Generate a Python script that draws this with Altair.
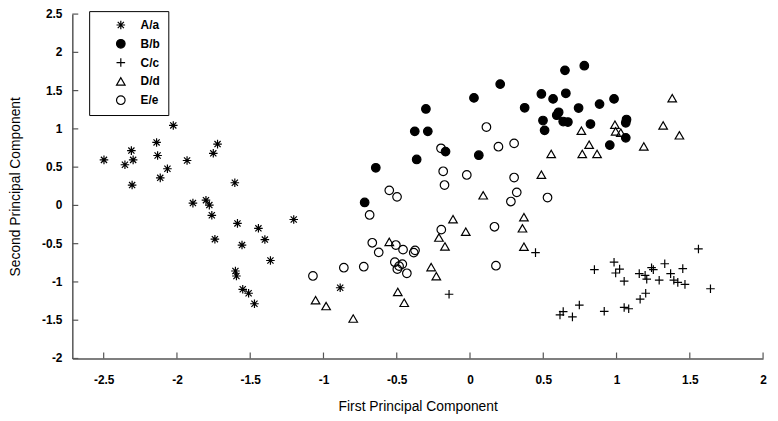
import altair as alt
import pandas as pd

groups = ["A/a", "B/b", "C/c", "D/d", "E/e"]

a_x = [-2.025, -2.139, -2.311, -1.723, -1.752, -2.132, -2.498, -2.299, -2.355, -1.931,
       -2.065, -2.114, -2.306, -1.605, -1.891, -1.802, -1.779, -1.762, -1.203, -1.587,
       -1.444, -1.741, -1.400, -1.556, -1.362, -1.601, -1.594, -1.551, -1.511, -1.471, -0.886]
a_y = [1.045, 0.823, 0.716, 0.801, 0.681, 0.652, 0.595, 0.595, 0.531, 0.587,
       0.479, 0.360, 0.266, 0.296, 0.030, 0.068, 0.004, -0.129, -0.184, -0.235,
       -0.299, -0.441, -0.446, -0.518, -0.720, -0.857, -0.922, -1.096, -1.148, -1.285, -1.076]

b_x = [-0.167, 0.060, -0.364, -0.643, -0.719, 0.206, 0.027, -0.301, -0.377, -0.288,
       0.648, 0.780, 0.487, 0.654, 0.567, 0.983, 0.373, 0.884, 0.741, 0.605,
       0.592, 0.498, 0.636, 0.668, 0.822, 1.068, 1.063, 0.509, 1.063, 0.954]
b_y = [0.703, 0.656, 0.600, 0.492, 0.039, 1.585, 1.405, 1.260, 0.968, 0.968,
       1.765, 1.825, 1.456, 1.465, 1.392, 1.392, 1.276, 1.324, 1.272, 1.217,
       1.179, 1.109, 1.096, 1.089, 1.063, 1.122, 1.080, 0.981, 0.883, 0.788]

c_x = [0.447, 1.559, 0.849, 0.983, 0.994, 1.021, 1.052, 1.155, 1.195, 1.206,
       1.239, 1.251, 1.291, 1.329, 1.369, 1.452, 1.391, 1.418, 1.467, 1.641,
       1.199, 1.161, 0.746, 0.636, 0.614, 0.699, 0.916, 1.052, 1.083, -0.143]
c_y = [-0.617, -0.569, -0.839, -0.742, -0.883, -0.832, -0.990, -0.891, -0.913, -0.964,
       -0.814, -0.839, -0.977, -0.762, -0.891, -0.826, -0.977, -1.006, -1.032, -1.089,
       -1.148, -1.225, -1.302, -1.388, -1.431, -1.456, -1.384, -1.333, -1.350, -1.161]

d_x = [0.090, -0.116, -0.029, -0.212, -0.171, -0.551, 0.368, 0.358, 0.368, 0.487,
       -0.265, -0.230, -0.493, -0.449, -1.054, -0.982, -0.797, 1.380, 1.318, 1.429,
       0.989, 0.994, 1.029, 0.760, 0.813, 1.186, 0.554, 0.766, 0.867]
d_y = [0.132, -0.180, -0.343, -0.420, -0.536, -0.476, -0.154, -0.299, -0.540, 0.402,
       -0.806, -0.925, -1.131, -1.272, -1.238, -1.315, -1.478, 1.401, 1.045, 0.916,
       1.054, 0.968, 0.951, 0.977, 0.793, 0.771, 0.672, 0.672, 0.672]

e_x = [-0.198, 0.194, 0.301, -0.183, -0.022, -0.174, 0.301, -0.551, -0.498, 0.319,
       0.279, -0.685, -0.196, 0.167, -0.667, -0.623, -0.506, -0.457, -0.375, -0.384,
       -0.513, -0.462, -0.484, -0.496, -0.431, -0.861, -0.725, -1.072, 0.177, 0.112, 0.529]
e_y = [0.746, 0.767, 0.810, 0.446, 0.398, 0.266, 0.364, 0.197, 0.112, 0.171,
       0.051, -0.125, -0.317, -0.279, -0.488, -0.613, -0.518, -0.578, -0.587, -0.617,
       -0.742, -0.767, -0.793, -0.832, -0.887, -0.814, -0.801, -0.922, -0.788, 1.024, 0.103]

x_ticks = [-2.5, -2, -1.5, -1, -0.5, 0, 0.5, 1, 1.5, 2]
y_ticks = [-2, -1.5, -1, -0.5, 0, 0.5, 1, 1.5, 2, 2.5]
y_tick_labels = ["-2", "-1.5", "-1", "-0.5", "0", "0.5", "1", "1.5", "2", "2.5"]

series = [(groups[0], a_x, a_y), (groups[1], b_x, b_y), (groups[2], c_x, c_y),
          (groups[3], d_x, d_y), (groups[4], e_x, e_y)]
rows = []
for g, xs, ys in series:
    for xv, yv in zip(xs, ys):
        rows.append({"x": xv, "y": yv, "group": g})
df = pd.DataFrame(rows)

W, H = 698, 348
AXC = "#555555"
FONT = "Liberation Sans"

asterisk = "M-1,0L1,0M0,-1L0,1M-0.72,-0.72L0.72,0.72M-0.72,0.72L0.72,-0.72"
plus = "M-1,0L1,0M0,-1L0,1"

xscale = alt.Scale(domain=[-2.714, 2.0], nice=False, zero=False)
yscale = alt.Scale(domain=[-2.0, 2.5], nice=False, zero=False)

legend = alt.Legend(
    title=None, orient="none", legendX=17, legendY=-3,
    strokeColor="black", padding=8, rowPadding=5,
    symbolOffset=18, labelOffset=14, symbolSize=75,
    symbolStrokeWidth=1.2,
    labelFont=FONT, labelFontSize=12, labelFontWeight="bold", labelColor="black",
    labelExpr="datum.label + '    '",
)

axis_common = dict(ticks=False, grid=False, domainColor=AXC, domainWidth=1.5,
                   labelFont=FONT, labelFontSize=12, labelFontWeight="bold",
                   labelColor="black", titleFont=FONT, titleFontSize=14,
                   titleFontWeight="normal", titleColor="black",
                   labelFlush=False, labelOverlap=False,
                   labelExpr="'' + datum.value")

points = alt.Chart(df).mark_point(size=75, strokeWidth=1.2, opacity=1).encode(
    x=alt.X("x:Q", scale=xscale,
            axis=alt.Axis(values=x_ticks, title="First Principal Component",
                          labelPadding=16, titlePadding=15, **axis_common)),
    y=alt.Y("y:Q", scale=yscale,
            axis=alt.Axis(values=y_ticks, title="Second Principal Component",
                          labels=False, titleX=-57, titleY=H / 2,
                          titleBaseline="middle", **axis_common)),
    shape=alt.Shape("group:N", scale=alt.Scale(domain=groups,
                    range=[asterisk, "circle", plus, "triangle-up", "circle"]), legend=legend),
    fill=alt.Fill("group:N", scale=alt.Scale(domain=groups,
                  range=["transparent", "black", "transparent", "transparent", "transparent"]),
                  legend=legend),
    stroke=alt.Stroke("group:N", scale=alt.Scale(domain=groups,
                      range=["black", "black", "black", "black", "black"]),
                      legend=legend),
)

xt = alt.Chart(pd.DataFrame({"v": x_ticks})).mark_rule(color=AXC, strokeWidth=1.2).encode(
    x=alt.X("v:Q", scale=xscale, title="First Principal Component"),
    y=alt.value(H - 6), y2=alt.value(H),
)
yt = alt.Chart(pd.DataFrame({"v": y_ticks})).mark_rule(color=AXC, strokeWidth=1.2).encode(
    y=alt.Y("v:Q", scale=yscale, title="Second Principal Component"),
    x=alt.value(0), x2=alt.value(6),
)
ylab = alt.Chart(pd.DataFrame({"v": y_ticks, "lab": y_tick_labels})).mark_text(
    align="right", baseline="middle", dx=-10, font=FONT, fontSize=12,
    fontWeight="bold", color="black",
).encode(
    y=alt.Y("v:Q", scale=yscale, title="Second Principal Component"),
    x=alt.value(0),
    text=alt.Text("lab:N"),
)

chart = alt.layer(points, xt, yt, ylab).properties(
    width=W, height=H,
    autosize=alt.AutoSizeParams(type="none"),
    padding={"left": 65, "top": 4, "right": 7, "bottom": 58},
).configure_view(stroke=None)

chart.save("out.html", embed_options={"renderer": "svg", "actions": False})
